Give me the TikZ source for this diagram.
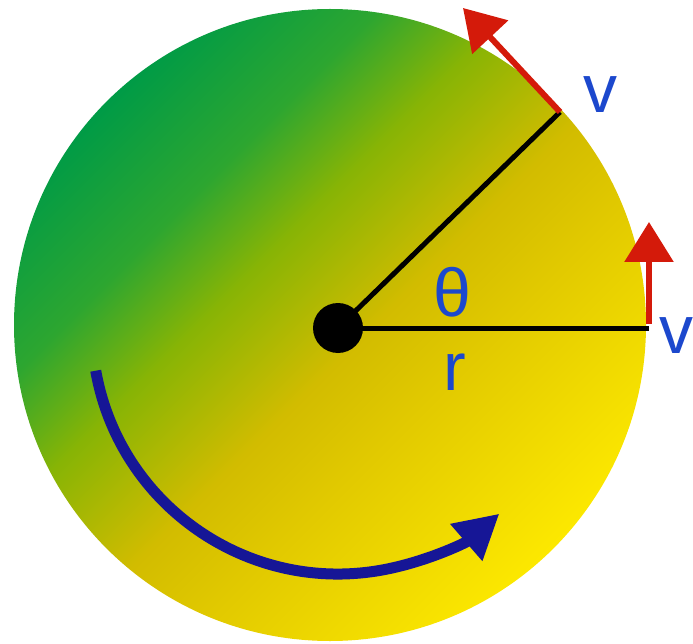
\documentclass[tikz,border=0pt]{standalone}
\usepackage{fontspec}
\setmainfont{Liberation Sans}
\usetikzlibrary{arrows.meta,calc}
\definecolor{discgreen}{RGB}{0,155,70}
\definecolor{discleaf}{RGB}{45,166,48}
\definecolor{discolive}{RGB}{135,180,5}
\definecolor{discgold}{RGB}{210,188,0}
\definecolor{discamber}{RGB}{226,202,0}
\definecolor{discyellow}{RGB}{252,232,0}
\definecolor{labelblue}{RGB}{28,72,205}
\definecolor{velred}{RGB}{212,26,10}
\definecolor{spinblue}{RGB}{22,22,150}
\pgfdeclareverticalshading{discshade}{100bp}{color(0bp)=(discyellow); color(25bp)=(discyellow); color(40bp)=(discamber); color(47.5bp)=(discgold); color(57.5bp)=(discolive); color(65bp)=(discleaf); color(75bp)=(discgreen); color(100bp)=(discgreen)}

\begin{document}
\begin{tikzpicture}[x=1pt, y=-1pt,
    lbl/.style={text=labelblue, font=\fontsize{68}{80}\selectfont, inner sep=0pt},
    radline/.style={line width=5pt, black},
    vel/.style={-{Triangle[length=40pt, width=48pt]}, line width=6pt, velred},
    spin/.style={-{Triangle[length=44pt, width=46pt]}, line width=11pt, spinblue}
]
\useasboundingbox (0,0) rectangle (693,644);

\node[circle, minimum size=632pt, inner sep=0pt, shading=discshade, shading angle=45] (disc) at (330,325) {};
\node[circle, fill=black, minimum size=50pt, inner sep=0pt] (hub) at (338,328) {};

\coordinate (rimA) at (560,112);
\coordinate (rimB) at (649,328);
\coordinate (tipA) at (463,8);
\coordinate (tipB) at (649,222);

\draw[radline] (hub.center) -- (rimA);
\draw[radline] (hub.center) -- (rimB);
\draw[vel] (rimA) -- (tipA);
\draw[vel] ([yshift=4pt]rimB) -- (tipB);

\draw[spin] ([shift={(170:246)}]hub.center) arc[start angle=170, end angle=49, radius=246];

\node[lbl] (vA) at (600,95) {v};
\node[lbl] (vB) at (676,336) {v};
\node[lbl] (theta) at (452,292) {θ};
\node[lbl] (r) at (455,372) {r};
\end{tikzpicture}
\end{document}
